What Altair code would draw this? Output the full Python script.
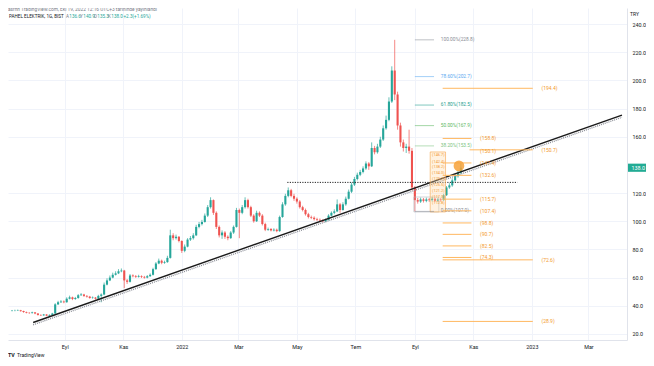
import altair as alt
import pandas as pd

# ---------------- data ----------------
candle_start = "2021-07-08"
candle_step = "3D"
first_open = 36.3
closes = [
    36.5, 36.6, 36.8, 36.2, 35.5, 35.0, 34.8, 35.3, 34.5, 33.5,
    33.2, 33.8, 33.0, 33.5, 34.5, 41.0, 42.5, 43.0, 42.5, 45.0,
    46.0, 44.8, 45.5, 47.5, 48.0, 47.0, 46.5, 45.5, 45.8, 45.0,
    47.0, 48.0, 55.0, 58.0, 60.0, 62.0, 63.0, 64.5, 65.0, 58.0,
    57.0, 61.5, 61.0, 60.5, 61.0, 60.5, 60.0, 61.0, 62.0, 66.0,
    70.0, 72.0, 70.5, 71.0, 74.0, 90.0, 88.0, 89.0, 86.0, 79.0,
    82.0, 87.0, 88.0, 90.0, 96.0, 98.0, 99.5, 104.0, 110.0, 115.0,
    106.0, 96.0, 90.0, 92.0, 89.0, 88.0, 92.0, 96.0, 108.0, 106.0,
    110.0, 115.0, 110.0, 104.0, 100.0, 106.0, 104.0, 98.0, 94.0, 94.5,
    93.5, 94.0, 93.0, 103.0, 112.0, 118.0, 122.0, 118.0, 116.0, 114.0,
    110.0, 108.0, 105.0, 103.0, 102.5, 101.5, 101.0, 100.5, 100.0, 101.0,
    104.0, 106.0, 107.0, 112.0, 108.0, 112.0, 116.0, 121.0, 126.0, 130.0,
    133.0, 135.0, 137.5, 141.0, 139.0, 152.0, 149.0, 153.0, 158.0, 166.0,
    172.0, 185.0, 207.0, 190.0, 168.0, 156.0, 152.0, 153.0, 150.0, 124.0,
    115.0, 114.0, 115.5, 114.5, 115.5, 115.0, 116.0, 114.5, 115.5, 115.0,
    118.5, 124.0, 125.5, 129.0, 132.0, 134.5, 138.0]
highs = [
    37.0, 37.2, 37.3, 37.1, 36.5, 35.9, 35.4, 35.8, 35.6, 34.8,
    33.9, 34.2, 34.1, 33.9, 35.0, 41.8, 43.5, 44.0, 43.8, 46.0,
    47.2, 46.5, 46.3, 48.3, 49.0, 48.5, 47.6, 47.0, 46.6, 46.2,
    47.8, 48.8, 56.5, 59.5, 61.5, 63.5, 64.5, 66.0, 66.5, 65.5,
    59.0, 62.5, 62.3, 61.8, 62.0, 61.6, 61.2, 61.8, 63.0, 67.0,
    71.0, 73.5, 72.8, 72.0, 75.5, 94.0, 91.5, 90.5, 89.5, 86.5,
    83.5, 88.0, 89.5, 91.5, 97.5, 99.5, 101.0, 105.5, 111.5, 117.0,
    115.5, 107.0, 97.0, 93.5, 93.0, 90.0, 93.0, 97.0, 109.5, 109.0,
    111.5, 117.0, 116.0, 111.0, 105.0, 107.5, 107.0, 105.0, 99.0, 95.5,
    95.2, 95.0, 94.8, 104.0, 113.5, 119.5, 124.0, 123.0, 119.5, 117.0,
    115.0, 111.0, 109.0, 106.0, 104.0, 103.5, 102.5, 102.0, 101.5, 102.0,
    105.0, 107.0, 108.5, 115.5, 113.0, 113.5, 117.5, 122.5, 127.5, 131.5,
    134.5, 136.5, 139.0, 142.5, 142.0, 156.0, 153.5, 155.0, 160.0, 168.0,
    175.0, 188.0, 210.0, 228.8, 192.0, 170.0, 158.0, 155.0, 165.0, 152.0,
    125.0, 116.5, 116.8, 116.5, 116.8, 116.5, 117.2, 116.8, 116.5, 116.6,
    119.5, 125.0, 127.0, 130.5, 133.5, 136.0, 140.9]
lows = [
    36.0, 36.1, 36.3, 35.8, 35.0, 34.6, 34.3, 34.5, 34.0, 33.0,
    32.8, 32.9, 32.6, 32.5, 33.2, 34.3, 40.5, 42.0, 41.8, 42.2,
    44.5, 44.0, 44.2, 45.0, 47.0, 46.3, 45.8, 45.0, 45.0, 44.3,
    44.6, 42.5, 47.5, 54.5, 57.5, 59.5, 61.5, 62.5, 63.8, 52.5,
    55.5, 56.5, 60.2, 59.8, 60.0, 59.7, 59.3, 59.5, 60.5, 61.5,
    65.5, 69.5, 69.5, 69.8, 70.5, 73.5, 86.5, 87.0, 85.0, 77.5,
    78.0, 81.5, 86.0, 87.0, 89.5, 95.0, 97.0, 99.0, 103.0, 109.0,
    104.5, 94.5, 88.5, 87.5, 87.5, 86.5, 87.5, 91.0, 95.5, 88.0,
    105.0, 109.0, 109.0, 103.0, 99.0, 99.5, 103.0, 97.0, 93.0, 93.2,
    92.8, 92.8, 92.2, 92.5, 102.5, 111.0, 117.0, 117.0, 114.5, 112.5,
    109.0, 107.0, 104.0, 102.0, 101.5, 100.5, 100.0, 99.5, 99.2, 99.3,
    100.5, 103.5, 105.0, 106.5, 106.0, 107.5, 111.0, 115.5, 120.0, 125.0,
    129.0, 132.0, 134.0, 136.5, 136.5, 138.5, 147.5, 148.0, 152.0, 157.0,
    165.0, 171.0, 184.0, 186.0, 165.0, 153.0, 149.5, 148.5, 148.0, 122.0,
    107.0, 112.5, 113.0, 113.3, 113.5, 113.8, 114.0, 113.5, 113.6, 113.8,
    114.5, 118.0, 123.0, 124.5, 128.0, 131.0, 133.5]

price_ticks = [20, 40, 60, 80, 100, 120, 160, 180, 200, 220, 240]
month_ticks = [(2021, 9), (2021, 11), (2022, 1), (2022, 3), (2022, 5),
               (2022, 7), (2022, 9), (2022, 11), (2023, 1), (2023, 3)]
month_names = ["Oca", "Şub", "Mar", "Nis", "May", "Haz",
               "Tem", "Ağu", "Eyl", "Eki", "Kas", "Ara"]

trend_dates = ["2021-07-30", "2023-04-05"]
trend_prices = [28.1, 175.4]
trend_shadow_prices = [26.5, 173.8]

hline_dates = ["2022-04-21", "2022-12-17"]
hline_price = [127.6]

fib_labels = ["100.00%(228.8)", "78.60%(202.7)", "61.80%(182.5)",
              "50.00%(167.9)", "38.20%(153.5)", "0.00%(107.0)"]
fib_prices = [228.8, 202.7, 182.5, 167.9, 153.5, 107.0]
fib_line_dates = ["2022-09-01", "2022-09-21"]
fib_label_date = "2022-09-28"

short_levels = [158.8, 141.4, 132.6, 115.7, 107.4, 98.8, 90.7, 82.5, 74.3]
short_line_dates = ["2022-09-30", "2022-10-30"]
short_label_date = "2022-11-08"
short_label_only = [150.1]
long_levels = [194.4, 72.6, 28.9]
long_line_dates = ["2022-09-30", "2023-01-02"]
mid_long_level = [150.7]
mid_long_dates = ["2022-10-28", "2023-01-02"]
long_label_date = "2023-01-11"

stack_labels = [146.7, 142.4, 138.2, 134.0, 129.7, 125.5, 121.2, 117.0, 112.8]
stack_box = {"d1": "2022-09-17", "d2": "2022-10-03", "p1": 149.2, "p2": 106.6}
stack_label_date = "2022-09-19"
gray_box = {"d1": "2022-08-31", "d2": "2022-09-26", "p1": 117.2, "p2": 106.6}

marker_date = ["2022-10-17"]
marker_price = [139.3]

last_price = [138.0]
ticker = "PAHEL ELEKTRIK, 1G, BIST"
ohlc_letters = ["A", "Y", "D", "K"]
ohlc_values = ["136.6", "140.9", "135.3", "138.0"]
change_text = ["+2.3", "(+1.69%)"]
published = "asrnn TradingView.com, Eki 19, 2022 12:16 UTC+3 tarihinde yayınlandı"

# ---------------- styles ----------------
TEAL = "#26a69a"
RED = "#ef5350"
ORANGE_LINE = "#ffb860"
ORANGE_TXT = "#f39a2e"
FONT = "Roboto"
GRAY = "#787b86"
DARK = "#131722"
fib_palette = ["#8a8d96", "#5aa9f0", "#1e9e8e", "#5cb85f", "#7cc47f", "#8a8d96"]


def ts(d):
    return d + "T00:00:00"


dates = pd.date_range(candle_start, periods=len(closes), freq=candle_step)
opens = [first_open] + closes[:-1]
candles = pd.DataFrame({
    "date": dates.strftime("%Y-%m-%dT00:00:00"),
    "open": opens, "close": closes,
    "high": [max(h, o, c) for h, o, c in zip(highs, opens, closes)],
    "low": [min(l, o, c) for l, o, c in zip(lows, opens, closes)],
})

xscale = alt.Scale(domain=[alt.DateTime(year=2021, month=7, date=9),
                           alt.DateTime(year=2023, month=4, date=5)], nice=False)
yscale = alt.Scale(domain=[15.7, 251.4], nice=False, zero=False)

label_expr = ("month(datum.value) == 0 ? timeFormat(datum.value, '%Y') : "
              + "[" + ",".join("'" + m + "'" for m in month_names) + "][month(datum.value)]")

x_axis = alt.Axis(values=[alt.DateTime(year=y, month=m, date=1) for y, m in month_ticks],
                  labelExpr=label_expr, title=None, ticks=False, grid=True,
                  gridColor="#f0f3fa", domainColor="#e0e3eb", labelColor=DARK,
                  labelFontSize=5.4, labelFont=FONT, labelPadding=4,
                  labelFlush=False, labelOverlap=False)
y_axis = alt.Axis(orient="right", values=price_ticks, format=".1f", title=None,
                  ticks=False, grid=True, gridColor="#f0f3fa", domainColor="#e0e3eb",
                  labelColor=DARK, labelFontSize=5.4, labelFont=FONT,
                  labelPadding=5, labelOverlap=False)


def X(f):
    return alt.X(f, type="temporal", scale=xscale, axis=x_axis, title=None)


def Y(f):
    return alt.Y(f, type="quantitative", scale=yscale, axis=y_axis, title=None)


updown = alt.condition("datum.close >= datum.open", alt.value(TEAL), alt.value(RED))

wicks = alt.Chart(candles).mark_rule(strokeWidth=0.7, clip=True).encode(
    x=X("date"), y=Y("low"), y2="high", color=updown)
bodies = alt.Chart(candles).mark_bar(size=2.1, clip=True).encode(
    x=X("date"), y=Y("open"), y2="close", color=updown)

# trend line and its dotted shadow
trend_df = pd.DataFrame({"date": [ts(d) for d in trend_dates],
                         "p": trend_prices, "s": trend_shadow_prices})
trend_shadow = alt.Chart(trend_df).mark_line(
    color="#8a8d96", strokeWidth=1.3, strokeDash=[1, 1], clip=True).encode(
    x=X("date"), y=Y("s"))
trend = alt.Chart(trend_df).mark_line(color="#1a1a1a", strokeWidth=1.4, clip=True).encode(
    x=X("date"), y=Y("p"))

# dotted horizontal line
hl_df = pd.DataFrame({"d1": [ts(hline_dates[0])], "d2": [ts(hline_dates[1])], "p": hline_price})
hline = alt.Chart(hl_df).mark_rule(color="#222222", strokeWidth=1, strokeDash=[1.2, 1.3]).encode(
    x=X("d1"), x2="d2", y=Y("p"))

# fib retracement
fib_df = pd.DataFrame({"label": fib_labels, "p": fib_prices,
                       "d1": ts(fib_line_dates[0]), "d2": ts(fib_line_dates[1]),
                       "dl": ts(fib_label_date)})
fib_color = alt.Color("label:N", scale=alt.Scale(domain=fib_labels, range=fib_palette), legend=None)
fib_lines = alt.Chart(fib_df).mark_rule(strokeWidth=0.8, opacity=0.7).encode(
    x=X("d1"), x2="d2", y=Y("p"), color=fib_color)
fib_text = alt.Chart(fib_df).mark_text(align="left", baseline="middle", fontSize=4.8, font=FONT).encode(
    x=X("dl"), y=Y("p"), text="label:N", color=fib_color)

# gray box of the retracement base
gb_df = pd.DataFrame({"d1": [ts(gray_box["d1"])], "d2": [ts(gray_box["d2"])],
                      "p1": [gray_box["p1"]], "p2": [gray_box["p2"]]})
gbox = alt.Chart(gb_df).mark_rect(fill="#ffffff", fillOpacity=0, stroke="#b2b5be",
                                  strokeWidth=0.6).encode(
    x=X("d1"), x2="d2", y=Y("p1"), y2="p2")

# orange stacked label column
sb_df = pd.DataFrame({"d1": [ts(stack_box["d1"])], "d2": [ts(stack_box["d2"])],
                      "p1": [stack_box["p1"]], "p2": [stack_box["p2"]]})
sbox = alt.Chart(sb_df).mark_rect(fill="#ffd9a8", fillOpacity=0.35, stroke="#f7a64a",
                                  strokeWidth=0.6).encode(
    x=X("d1"), x2="d2", y=Y("p1"), y2="p2")
st_df = pd.DataFrame({"p": stack_labels, "d": ts(stack_label_date)})
st_df["t"] = st_df["p"].map(lambda v: "(%.1f)" % v)
stext = alt.Chart(st_df).mark_text(align="left", baseline="middle", fontSize=3.9,
                                   font=FONT, color=ORANGE_TXT).encode(
    x=X("d"), y=Y("p"), text="t:N")

# orange extension levels
sl_df = pd.DataFrame({"p": short_levels, "d1": ts(short_line_dates[0]),
                      "d2": ts(short_line_dates[1])})
short_lines = alt.Chart(sl_df).mark_rule(color=ORANGE_LINE, strokeWidth=1).encode(
    x=X("d1"), x2="d2", y=Y("p"))
ll_df = pd.DataFrame({"p": long_levels, "d1": ts(long_line_dates[0]),
                      "d2": ts(long_line_dates[1])})
long_lines = alt.Chart(ll_df).mark_rule(color=ORANGE_LINE, strokeWidth=1).encode(
    x=X("d1"), x2="d2", y=Y("p"))
ml_df = pd.DataFrame({"p": mid_long_level, "d1": ts(mid_long_dates[0]),
                      "d2": ts(mid_long_dates[1])})
mid_line = alt.Chart(ml_df).mark_rule(color=ORANGE_LINE, strokeWidth=1).encode(
    x=X("d1"), x2="d2", y=Y("p"))

slab_df = pd.DataFrame({"p": short_levels + short_label_only, "d": ts(short_label_date)})
slab_df["t"] = slab_df["p"].map(lambda v: "(%.1f)" % v)
llab_df = pd.DataFrame({"p": long_levels + mid_long_level, "d": ts(long_label_date)})
llab_df["t"] = llab_df["p"].map(lambda v: "(%.1f)" % v)
short_text = alt.Chart(slab_df).mark_text(align="left", baseline="middle", fontSize=5,
                                          font=FONT, color=ORANGE_TXT).encode(
    x=X("d"), y=Y("p"), text="t:N")
long_text = alt.Chart(llab_df).mark_text(align="left", baseline="middle", fontSize=5,
                                         font=FONT, color=ORANGE_TXT).encode(
    x=X("d"), y=Y("p"), text="t:N")

# orange marker
mk_df = pd.DataFrame({"d": [ts(d) for d in marker_date], "p": marker_price})
marker = alt.Chart(mk_df).mark_circle(size=115, color="#f7a23a", opacity=0.85).encode(
    x=X("d"), y=Y("p"))

# last price box on the price scale
lp_df = pd.DataFrame({"price": last_price})
lp_box = alt.Chart(lp_df).transform_calculate(
    top="datum.price + 2.9", bot="datum.price - 2.9").mark_rect(color="#22ab94").encode(
    x=alt.value(620), x2=alt.value(638), y=Y("top"), y2="bot")
lp_text = alt.Chart(lp_df).mark_text(align="left", baseline="middle", fontSize=5.4,
                                     font=FONT, color="#ffffff").encode(
    x=alt.value(623.5), y=Y("price"), text=alt.Text("price:Q", format=".1f"))

# header texts
one = pd.DataFrame({"k": [0]})


def label(text, x, y, color, size=4.6, weight="normal"):
    return alt.Chart(one).mark_text(align="left", baseline="middle", fontSize=size,
                                    font=FONT, color=color, fontWeight=weight,
                                    text=text).encode(x=alt.value(x), y=alt.value(y))


headers = [
    label(published, 0, 2.2, GRAY, 4.8),
    label(ticker, 1, 8.5, DARK, 4.6),
]
xs = [58, 72, 86, 100]
for letter, val, x0 in zip(ohlc_letters, ohlc_values, xs):
    headers.append(label(letter, x0, 8.5, GRAY, 4.6))
    headers.append(label(val, x0 + 3.3, 8.5, TEAL, 4.6))
headers.append(label(change_text[0], 115.5, 8.5, TEAL, 4.6))
headers.append(label(change_text[1], 124.5, 8.5, TEAL, 4.6))
headers.append(label("TRY", 622, 6, DARK, 5))
headers.append(label("TV", 0, 347, DARK, 5.3, "bold"))
headers.append(label("TradingView", 9, 347, DARK, 5))

chart = alt.layer(
    wicks, bodies, trend_shadow, trend, hline,
    gbox, sbox, stext,
    fib_lines, fib_text,
    short_lines, long_lines, mid_line, short_text, long_text,
    marker, lp_box, lp_text, *headers
).properties(
    width=619, height=332,
    autosize=alt.AutoSizeParams(type="none"),
    padding={"left": 0, "top": 0, "right": 19, "bottom": 18},
    background="#ffffff",
).configure_view(strokeWidth=0)

chart.save("out.html", embed_options={"renderer": "svg", "actions": False})
